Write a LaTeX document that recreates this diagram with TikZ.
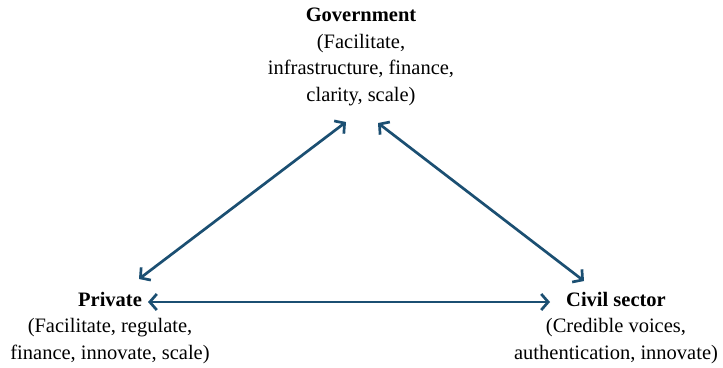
\documentclass[tikz,border=0pt]{standalone}
\usepackage{fontspec}
\setmainfont{Liberation Serif}
\usetikzlibrary{arrows.meta}
\definecolor{arrowblue}{HTML}{1B4F72}
\tikzset{
  lbl/.style={align=center, inner sep=0pt, font=\fontsize{20.5bp}{26.5bp}\selectfont, text=black},
  link/.style={draw=arrowblue, line width=2.7bp, {Straight Barb[length=7bp,width=16bp,line width=2.7bp]}-{Straight Barb[length=7bp,width=16bp,line width=2.7bp]}}
}
\begin{document}
\begin{tikzpicture}[x=1bp,y=-1bp]
\useasboundingbox (0,0) rectangle (723,367);
\node[lbl, anchor=center] (gov) at (361,57) {\textbf{Government}\\(Facilitate,\\infrastructure, finance,\\clarity, scale)};
\node[lbl, anchor=center] (priv) at (110,328) {\textbf{Private}\\(Facilitate, regulate,\\finance, innovate, scale)};
\node[lbl, anchor=center] (civ) at (616,328) {\textbf{Civil sector}\\(Credible voices,\\authentication, innovate)};
\coordinate (gl) at (346,122);
\coordinate (gr) at (378,123);
\coordinate (pt) at (139,279);
\coordinate (pr) at (148,302);
\coordinate (ct) at (584,281);
\coordinate (cl) at (550,302);
\draw[link] (gl) -- (pt);
\draw[link] (gr) -- (ct);
\draw[link] (pr) -- (cl);
\end{tikzpicture}
\end{document}
